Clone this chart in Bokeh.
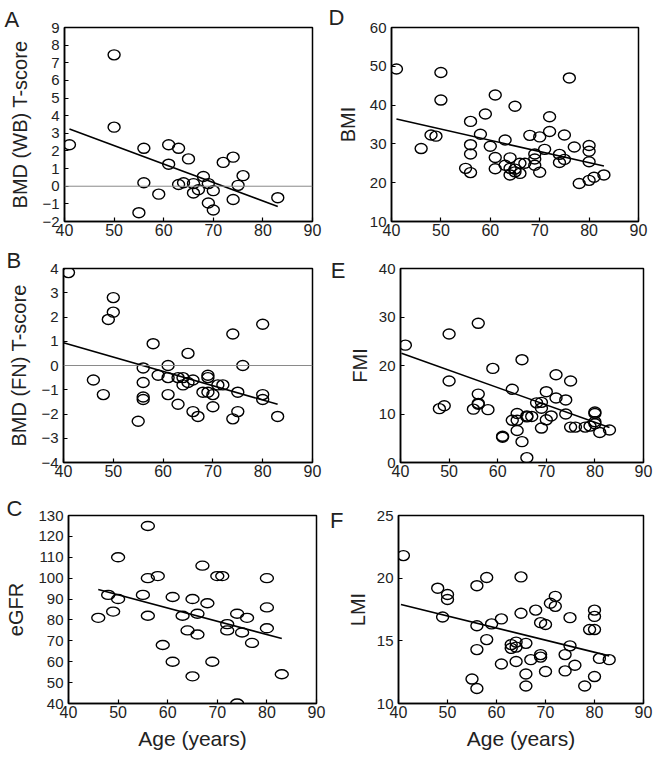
from bokeh.plotting import figure
from bokeh.layouts import column, row
from bokeh.models import FixedTicker, Range1d, Span, LinearAxis
from bokeh.embed import file_html
from bokeh.resources import INLINE

FONT = "Liberation Sans"

# ---- data ----
x_ticks = [40, 50, 60, 70, 80, 90]

ages_a = [41, 50, 50, 56, 56, 59, 55, 61, 61, 63, 65, 63, 64, 66, 66, 67, 68, 69, 69, 70, 70, 72, 74, 74, 75, 76, 83]
tscore_wb = [2.35, 7.45, 3.35, 2.15, 0.2, -0.45, -1.5, 2.35, 1.25, 2.15, 1.55, 0.1, 0.2, 0.15, -0.38, -0.2, 0.55,
             0.15, -0.95, -0.25, -1.35, 1.35, 1.65, -0.75, 0.05, 0.6, -0.65]
fit_a_x = [41, 83]
fit_a_y = [3.25, -1.15]
ticks_a = [-2, -1, 0, 1, 2, 3, 4, 5, 6, 7, 8, 9]

ages_b = [41, 46, 48, 49, 50, 50, 55, 56, 56, 56, 56, 58, 59, 61, 61, 61, 63, 63, 64, 64, 65, 65, 66, 66, 67, 68,
          69, 69, 69, 70, 70, 71, 72, 74, 74, 75, 75, 76, 80, 80, 80, 83]
tscore_fn = [3.83, -0.6, -1.2, 1.9, 2.8, 2.2, -2.3, -0.1, -0.7, -1.3, -1.4, 0.9, -0.4, 0.0, -0.5, -1.2, -0.5, -1.6,
             -0.5, -0.8, 0.5, -0.7, -1.9, -0.6, -2.1, -1.1, -0.4, -0.5, -1.1, -1.2, -1.7, -0.8, -0.8, 1.3, -2.2,
             -1.1, -1.9, 0.0, 1.7, -1.2, -1.4, -2.1]
fit_b_x = [40, 83]
fit_b_y = [0.94, -1.6]
ticks_b = [-4, -3, -2, -1, 0, 1, 2, 3, 4]

ages_c = [46, 48, 49, 50, 50, 55, 56, 56, 56, 58, 59, 61, 61, 63, 64, 65, 65, 66, 66, 67, 68, 69, 70, 71, 72, 72,
          74, 74, 75, 76, 77, 80, 80, 80, 83]
egfr = [81, 92, 84, 110, 90, 92, 125, 100, 82, 101, 68, 91, 60, 82, 75, 90, 53, 83, 73, 106, 88, 60, 101, 101, 78,
        75, 83, 40, 74, 81, 69, 100, 86, 76, 54]
fit_c_x = [46, 83]
fit_c_y = [94.6, 71.1]
ticks_c = [40, 50, 60, 70, 80, 90, 100, 110, 120, 130]

ages_d = [41, 46, 48, 49, 50, 50, 55, 56, 56, 56, 56, 58, 59, 60, 61, 61, 61, 63, 63, 64, 64, 64, 65, 65, 65, 66,
          66, 67, 68, 69, 69, 69, 70, 70, 71, 72, 72, 74, 74, 75, 75, 76, 77, 78, 80, 80, 80, 80, 81, 83]
bmi = [49.3, 28.8, 32.3, 32.0, 48.4, 41.3, 23.7, 35.8, 29.8, 27.4, 22.6, 32.5, 37.7, 29.4, 42.6, 26.5, 23.6, 31.0,
       24.5, 26.4, 23.7, 22.0, 23.5, 39.7, 22.8, 25.0, 22.4, 25.0, 32.2, 27.4, 26.1, 24.5, 31.8, 22.7, 28.6, 37.0,
       33.2, 27.3, 25.2, 32.3, 26.0, 47.0, 29.2, 19.8, 29.6, 28.1, 25.4, 20.6, 21.4, 22.0]
fit_d_x = [41, 83]
fit_d_y = [36.4, 24.3]
ticks_d = [10, 20, 30, 40, 50, 60]

ages_e = [41, 48, 49, 50, 50, 55, 56, 56, 56, 56, 58, 59, 61, 61, 63, 63, 64, 64, 64, 65, 65, 66, 66, 66, 67, 68,
          69, 69, 69, 70, 70, 71, 72, 72, 74, 74, 75, 75, 76, 78, 79, 80, 80, 80, 80, 81, 83]
fmi = [24.2, 11.1, 11.7, 26.5, 16.8, 11.0, 28.7, 14.1, 12.2, 12.0, 10.9, 19.4, 5.4, 5.2, 15.1, 8.7, 10.1, 8.7, 6.6,
       21.2, 4.3, 9.6, 1.0, 9.4, 9.5, 12.3, 12.4, 11.2, 7.1, 14.6, 8.8, 9.6, 18.1, 13.3, 12.9, 10.0, 16.8, 7.3, 7.3,
       7.3, 7.5, 10.4, 10.1, 8.4, 8.0, 6.2, 6.7]
fit_e_x = [40.2, 83]
fit_e_y = [22.55, 7.2]
ticks_e = [0, 10, 20, 30, 40]

ages_f = [41, 48, 49, 50, 50, 55, 56, 56, 56, 56, 58, 58, 59, 61, 61, 63, 63, 64, 64, 64, 65, 65, 66, 66, 66, 67,
          68, 69, 69, 69, 70, 70, 71, 72, 72, 74, 74, 75, 75, 76, 78, 79, 80, 80, 80, 80, 81, 83]
lmi = [21.8, 19.2, 16.9, 18.7, 18.3, 11.95, 19.4, 16.2, 14.3, 11.2, 20.05, 15.1, 16.35, 16.75, 13.15, 14.7, 14.4,
       14.9, 14.5, 13.35, 20.1, 17.2, 14.8, 12.35, 11.4, 13.5, 17.45, 16.45, 13.9, 13.7, 16.3, 12.55, 18.0, 18.55,
       17.75, 13.9, 12.6, 16.85, 14.6, 13.05, 11.4, 15.9, 17.45, 16.95, 15.9, 12.15, 13.6, 13.5]
fit_f_x = [40.5, 83]
fit_f_y = [17.9, 13.8]
ticks_f = [10, 15, 20, 25]


def panel(letter, xs, ys, fx, fy, yticks, ylabel, w, h, bl, br, bt, bb,
          t_off=0, t_stand=0, axis_letter_drop=None,
          xlabel=None, zero=False, ew=12, eh=10, ylab_standoff=8):
    p = figure(width=w, height=h, x_range=Range1d(40, 90), y_range=Range1d(yticks[0], yticks[-1]),
               output_backend="svg", toolbar_location=None,
               min_border_left=bl, min_border_right=br, min_border_top=bt, min_border_bottom=bb)
    p.grid.visible = False
    p.outline_line_color = "black"
    p.outline_line_width = 1.5
    p.background_fill_color = "white"
    p.border_fill_color = "white"
    for ax, ticks in ((p.xaxis[0], x_ticks), (p.yaxis[0], yticks)):
        ax.ticker = FixedTicker(ticks=ticks)
        ax.axis_line_color = "black"
        ax.axis_line_width = 1.5
        ax.major_tick_in = 4
        ax.major_tick_out = 0
        ax.major_tick_line_width = 1.2
        ax.minor_tick_line_color = None
        ax.major_label_text_font = FONT
        ax.major_label_text_color = "#222222"
        ax.axis_label_text_font = FONT
        ax.axis_label_text_font_style = "normal"
        ax.axis_label_text_color = "#222222"
    p.xaxis.major_label_text_font_size = "16px"
    p.xaxis.major_label_standoff = 2
    p.yaxis.major_label_text_font_size = "15px"
    p.yaxis.major_label_standoff = 5
    p.yaxis.axis_label = ylabel
    p.yaxis.axis_label_text_font_size = "20px"
    p.yaxis.axis_label_standoff = ylab_standoff
    if xlabel:
        p.xaxis.axis_label = xlabel
        p.xaxis.axis_label_text_font_size = "21px"
        p.xaxis.axis_label_standoff = 6
    if zero:
        p.add_layout(Span(location=0, dimension="width", line_color="#8a8a8a", line_width=1))
    p.line(fx, fy, line_color="black", line_width=1.6)
    p.ellipse(x=xs, y=ys, width=ew, height=eh, width_units="screen", height_units="screen",
              fill_color=None, line_color="black", line_width=1.4)
    if axis_letter_drop is None:
        # panel letter as a left-aligned title above the frame
        p.title.text = letter
        p.title.align = "left"
        p.title.offset = t_off
        p.title.standoff = t_stand
        p.title.text_font = FONT
        p.title.text_font_size = "22px"
        p.title.text_font_style = "normal"
        p.title.text_color = "#222222"
    else:
        # panel letter as the single label of an outer left axis (pixel-based range)
        fh = h - bt - bb
        p.extra_y_ranges = {"letter": Range1d(start=axis_letter_drop - fh, end=axis_letter_drop)}
        la = LinearAxis(y_range_name="letter", ticker=FixedTicker(ticks=[0]),
                        major_label_overrides={0: letter})
        la.axis_line_color = None
        la.major_tick_line_color = None
        la.major_tick_in = 0
        la.major_tick_out = 0
        la.minor_tick_line_color = None
        la.minor_tick_in = 0
        la.minor_tick_out = 0
        la.axis_label_standoff = 0
        la.major_label_standoff = 0
        la.major_label_text_font = FONT
        la.major_label_text_font_size = "22px"
        la.major_label_text_color = "#222222"
        p.add_layout(la, "left")
    return p


pA = panel("A", ages_a, tscore_wb, fit_a_x, fit_a_y, ticks_a, "BMD (WB) T-score",
           327, 246, 64, 15, 26, 25, t_off=-60, t_stand=-8, zero=True)
pB = panel("B", ages_b, tscore_fn, fit_b_x, fit_b_y, ticks_b, "BMD (FN) T-score",
           327, 246, 63, 15, 22, 29, t_off=-57, t_stand=-8, zero=True)
pC = panel("C", ages_c, egfr, fit_c_x, fit_c_y, ticks_c, "eGFR",
           327, 264, 68, 11, 21, 47, t_off=-62, t_stand=-10, xlabel="Age (years)", ew=13, eh=9)
pD = panel("D", ages_d, bmi, fit_d_x, fit_d_y, ticks_d, "BMI",
           327, 246, 64, 16, 27, 25, t_off=-63, t_stand=-4)
pE = panel("E", ages_e, fmi, fit_e_x, fit_e_y, ticks_e, "FMI",
           327, 246, 68, 11, 20, 30, axis_letter_drop=2, ylab_standoff=5)
pF = panel("F", ages_f, lmi, fit_f_x, fit_f_y, ticks_f, "LMI",
           327, 264, 70, 11, 23, 53, axis_letter_drop=5, ylab_standoff=5, xlabel="Age (years)")

layout = column(row(pA, pD), row(pB, pE), row(pC, pF))

open("out.html", "w").write(file_html(layout, INLINE))
